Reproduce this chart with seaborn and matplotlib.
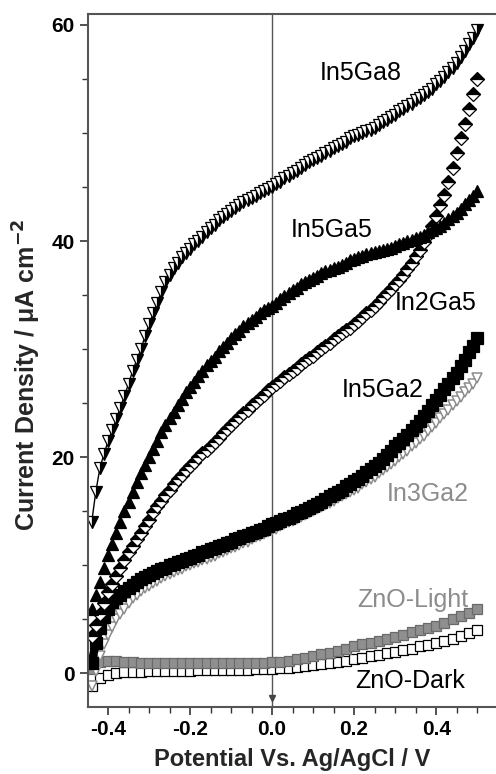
import numpy as np
import pandas as pd
import matplotlib
matplotlib.use("Agg")
import matplotlib.pyplot as plt
import seaborn as sns
from matplotlib.ticker import MultipleLocator

# Potential sweep (V vs Ag/AgCl), fine sampling for the In/Ga samples
potential = [-0.44, -0.43, -0.42, -0.41, -0.40, -0.39, -0.38, -0.37, -0.36, -0.35,
             -0.34, -0.33, -0.32, -0.31, -0.30, -0.29, -0.28, -0.27, -0.26, -0.25,
             -0.24, -0.23, -0.22, -0.21, -0.20, -0.19, -0.18, -0.17, -0.16, -0.15,
             -0.14, -0.13, -0.12, -0.11, -0.10, -0.09, -0.08, -0.07, -0.06, -0.05,
             -0.04, -0.03, -0.02, -0.01, 0.00, 0.01, 0.02, 0.03, 0.04, 0.05,
             0.06, 0.07, 0.08, 0.09, 0.10, 0.11, 0.12, 0.13, 0.14, 0.15,
             0.16, 0.17, 0.18, 0.19, 0.20, 0.21, 0.22, 0.23, 0.24, 0.25,
             0.26, 0.27, 0.28, 0.29, 0.30, 0.31, 0.32, 0.33, 0.34, 0.35,
             0.36, 0.37, 0.38, 0.39, 0.40, 0.41, 0.42, 0.43, 0.44, 0.45,
             0.46, 0.47, 0.48, 0.49, 0.50]

# coarser sampling for the bare ZnO films
potential_zno = [-0.44, -0.42, -0.40, -0.38, -0.36, -0.34, -0.32, -0.30, -0.28, -0.26,
                 -0.24, -0.22, -0.20, -0.18, -0.16, -0.14, -0.12, -0.10, -0.08, -0.06,
                 -0.04, -0.02, 0.00, 0.02, 0.04, 0.06, 0.08, 0.10, 0.12, 0.14,
                 0.16, 0.18, 0.20, 0.22, 0.24, 0.26, 0.28, 0.30, 0.32, 0.34,
                 0.36, 0.38, 0.40, 0.42, 0.44, 0.46, 0.48, 0.50]

in5ga8 = [14, 16.8, 19, 20.3, 21.5, 22.5, 23.5, 24.6, 25.7, 26.8,
          28, 29, 30, 31.2, 32.3, 33.3, 34.3, 35.3, 36.2, 36.9,
          37.5, 38, 38.5, 38.9, 39.3, 39.7, 40, 40.4, 40.8, 41.2,
          41.5, 41.9, 42.2, 42.5, 42.8, 43.1, 43.3, 43.6, 43.8, 44,
          44.2, 44.4, 44.6, 44.8, 45, 45.3, 45.5, 45.8, 46, 46.3,
          46.5, 46.8, 47, 47.3, 47.5, 47.7, 47.9, 48.1, 48.3, 48.6,
          48.8, 49, 49.2, 49.5, 49.7, 49.8, 50, 50.2, 50.3, 50.5,
          50.7, 51, 51.2, 51.5, 51.7, 52, 52.2, 52.5, 52.7, 53,
          53.2, 53.5, 53.8, 54.1, 54.5, 54.8, 55.2, 55.6, 56, 56.5,
          57, 57.6, 58.2, 58.8, 59.5]
in5ga5 = [6, 7.3, 8.5, 9.8, 11, 12, 13, 14, 15, 15.9,
          16.8, 17.7, 18.5, 19.3, 20, 20.8, 21.5, 22.3, 23, 23.6,
          24.2, 24.8, 25.4, 26, 26.5, 27, 27.5, 28, 28.5, 28.9,
          29.3, 29.8, 30.2, 30.6, 31, 31.4, 31.7, 32.1, 32.4, 32.7,
          33, 33.3, 33.6, 33.8, 34, 34.3, 34.6, 34.9, 35.2, 35.5,
          35.7, 36, 36.2, 36.4, 36.6, 36.8, 37, 37.2, 37.3, 37.5,
          37.6, 37.8, 38, 38.2, 38.3, 38.5, 38.6, 38.8, 38.9, 39,
          39.1, 39.2, 39.3, 39.4, 39.5, 39.7, 39.8, 40, 40.1, 40.3,
          40.4, 40.6, 40.8, 41, 41.2, 41.4, 41.7, 42, 42.3, 42.6,
          43, 43.4, 43.8, 44.2, 44.6]
in2ga5 = [3.5, 4.5, 5.5, 6.5, 7.5, 8.3, 9, 9.8, 10.5, 11.2,
          11.8, 12.4, 13, 13.6, 14.2, 14.9, 15.5, 16, 16.5, 17,
          17.5, 18, 18.4, 18.8, 19.2, 19.6, 20, 20.4, 20.7, 21,
          21.4, 21.8, 22.2, 22.6, 23, 23.4, 23.7, 24.1, 24.4, 24.8,
          25.1, 25.5, 25.8, 26.2, 26.5, 26.8, 27.1, 27.4, 27.7, 28,
          28.3, 28.6, 28.9, 29.2, 29.4, 29.7, 30, 30.3, 30.6, 30.9,
          31.2, 31.5, 31.8, 32, 32.3, 32.6, 33, 33.3, 33.6, 34,
          34.4, 34.8, 35.2, 35.6, 36, 36.4, 36.9, 37.4, 38, 38.6,
          39.2, 39.9, 40.6, 41.4, 42.3, 43.3, 44.3, 45.5, 46.8, 48.1,
          49.5, 50.8, 52.2, 53.6, 55]
in5ga2 = [1, 2.8, 4.2, 5.2, 6, 6.6, 7, 7.3, 7.6, 7.9,
          8.2, 8.5, 8.7, 8.9, 9.1, 9.3, 9.5, 9.7, 9.8, 10,
          10.1, 10.3, 10.4, 10.6, 10.7, 10.9, 11, 11.2, 11.3, 11.5,
          11.6, 11.8, 11.9, 12.1, 12.2, 12.4, 12.5, 12.7, 12.8, 13,
          13.1, 13.3, 13.4, 13.6, 13.8, 13.9, 14.1, 14.3, 14.4, 14.6,
          14.8, 14.9, 15.1, 15.3, 15.5, 15.7, 15.9, 16.1, 16.4, 16.6,
          16.8, 17, 17.3, 17.5, 17.8, 18, 18.3, 18.6, 18.9, 19.2,
          19.5, 19.8, 20.2, 20.6, 21, 21.3, 21.7, 22.1, 22.5, 22.9,
          23.4, 23.8, 24.3, 24.8, 25.3, 25.8, 26.3, 26.8, 27.3, 27.8,
          28.4, 29, 29.7, 30.3, 31]
in3ga2 = [-1.2, 0.2, 1.6, 2.7, 3.6, 4.3, 5, 5.5, 6, 6.5,
          7, 7.3, 7.6, 7.9, 8.1, 8.4, 8.6, 8.8, 9, 9.2,
          9.4, 9.6, 9.7, 9.9, 10, 10.2, 10.3, 10.5, 10.6, 10.8,
          10.9, 11.1, 11.2, 11.4, 11.6, 11.7, 11.9, 12.1, 12.2, 12.4,
          12.6, 12.7, 12.9, 13.1, 13.3, 13.4, 13.6, 13.8, 14, 14.1,
          14.3, 14.5, 14.7, 14.8, 15, 15.2, 15.4, 15.6, 15.8, 16,
          16.2, 16.4, 16.6, 16.8, 17, 17.2, 17.5, 17.7, 18, 18.2,
          18.5, 18.8, 19.1, 19.4, 19.7, 20, 20.3, 20.6, 21, 21.3,
          21.7, 22, 22.4, 22.8, 23.2, 23.6, 24, 24.4, 24.8, 25.2,
          25.6, 26, 26.4, 26.8, 27.3]
zno_light = [0.4, 1.1, 1.2, 1.2, 1.1, 1.1, 1.0, 1.0, 1.0, 1.0,
             1.0, 1.0, 1.0, 1.0, 1.0, 1.0, 1.0, 1.0, 1.0, 1.0,
             1.0, 1.0, 1.1, 1.1, 1.2, 1.3, 1.4, 1.6, 1.8, 1.9,
             2.1, 2.3, 2.5, 2.7, 2.8, 3.0, 3.2, 3.4, 3.6, 3.8,
             4.0, 4.2, 4.4, 4.7, 5.0, 5.3, 5.6, 6.0]
zno_dark = [-1.2, -0.4, -0.1, 0.0, 0.1, 0.1, 0.1, 0.2, 0.2, 0.2,
            0.2, 0.2, 0.2, 0.3, 0.3, 0.3, 0.3, 0.3, 0.3, 0.3,
            0.4, 0.4, 0.4, 0.5, 0.5, 0.6, 0.7, 0.8, 0.9, 1.0,
            1.1, 1.2, 1.3, 1.4, 1.6, 1.7, 1.9, 2.0, 2.2, 2.3,
            2.5, 2.6, 2.8, 3.0, 3.2, 3.5, 3.7, 4.0]

labels = ["ZnO-Dark", "ZnO-Light", "In3Ga2", "In5Ga2", "In2Ga5", "In5Ga5", "In5Ga8"]
series = [zno_dark, zno_light, in3ga2, in5ga2, in2ga5, in5ga5, in5ga8]
xgrids = [potential_zno, potential_zno, potential, potential, potential, potential, potential]

xticks = [-0.4, -0.2, 0.0, 0.2, 0.4]
yticks = [0, 20, 40, 60]

sns.set_theme(style="ticks")
plt.rcParams['font.family'] = ['Liberation Sans', 'DejaVu Sans']

fig = plt.figure(figsize=(4.96, 7.74), dpi=100)
ax = fig.add_axes([88/496, 67/774, (496-88)/496, (707-14)/774])

grey = "#8c8c8c"
styles = {
    "ZnO-Dark": dict(marker="s", ms=7, mfc="white", mec="black", mew=0.9, lw=0),
    "ZnO-Light": dict(marker="s", ms=7, mfc="#8f8f8f", mec="#6a6a6a", mew=0.9, lw=0),
    "In3Ga2": dict(marker="v", ms=7.5, mfc="white", mec=grey, mew=1.1, lw=0),
    "In5Ga2": dict(marker="s", ms=8, mfc="black", mec="black", mew=0.9, lw=6, color="black"),
    "In2Ga5": dict(marker="D", ms=7.5, fillstyle="top", mfc="black", mfcalt="white",
                   mec="black", mew=0.9, lw=0),
    "In5Ga5": dict(marker="^", ms=9, mfc="black", mec="black", mew=0.9, lw=0),
    "In5Ga8": dict(marker="v", ms=8.5, fillstyle="right", mfc="black", mfcalt="white",
                   mec="black", mew=0.9, lw=1, color="black"),
}

for name, xs, vals in zip(labels, xgrids, series):
    df = pd.DataFrame({"E": xs, "J": vals})
    st = dict(styles[name])
    color = st.pop("color", "black")
    sns.lineplot(data=df, x="E", y="J", ax=ax, estimator=None, sort=False,
                 color=color, **st)

# vertical reference line at 0 V with arrow head
ax.axvline(0, color="#555555", lw=1.0, zorder=0)
ax.plot([0], [-2.3], marker="v", ms=5, color="#444444", lw=0)

txt = dict(fontsize=18, ha="center", va="center")
ax.text(0.215, 55.5, "In5Ga8", color="black", **txt)
ax.text(0.145, 41.0, "In5Ga5", color="black", **txt)
ax.text(0.40, 34.3, "In2Ga5", color="black", **txt)
ax.text(0.27, 26.2, "In5Ga2", color="black", **txt)
ax.text(0.38, 16.6, "In3Ga2", color=grey, **txt)
ax.text(0.343, 6.8, "ZnO-Light", color=grey, **txt)
ax.text(0.337, -0.7, "ZnO-Dark", color="black", **txt)

ax.set_xlim(-0.449, 0.546)
ax.set_ylim(-3.1, 61.0)
ax.set_xticks(xticks)
ax.set_xticklabels([f"{v:.1f}" for v in xticks])
ax.set_yticks(yticks)
ax.set_yticklabels([str(v) for v in yticks])
ax.xaxis.set_minor_locator(MultipleLocator(0.05))
ax.yaxis.set_minor_locator(MultipleLocator(5))
ax.tick_params(which="major", direction="out", length=6, width=1.2, colors="#333333",
               labelsize=15, labelcolor="black")
ax.tick_params(which="minor", direction="out", length=4, width=1.0, colors="#333333")
for lab in ax.get_xticklabels() + ax.get_yticklabels():
    lab.set_fontweight("bold")

for side in ["left", "bottom", "top"]:
    ax.spines[side].set_visible(True)
    ax.spines[side].set_color("#555555")
    ax.spines[side].set_linewidth(1.5)
ax.spines["right"].set_visible(False)

ax.set_xlabel("Potential Vs. Ag/AgCl / V", fontsize=17, fontweight="bold", labelpad=6)
ax.set_ylabel("Current Density / \u03bcA cm$^{\\mathbf{-2}}$", fontsize=18, fontweight="bold")
ax.yaxis.set_label_coords(-0.11, 0.48)

fig.savefig("out.png", dpi=100)
